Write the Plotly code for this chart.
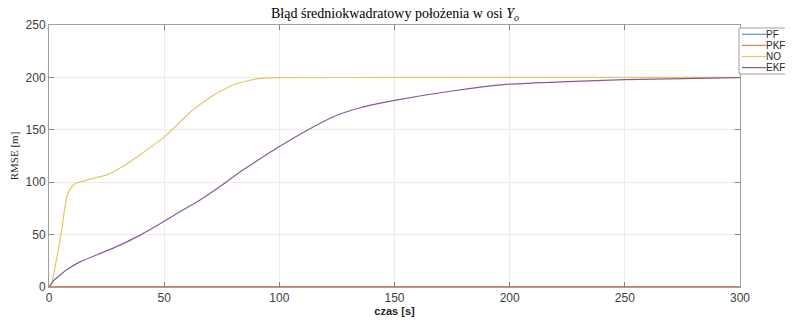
import plotly.graph_objects as go

# %% Data
t_flat = [0, 100, 200, 300]
pf_rmse = [0.3, 0.3, 0.3, 0.3]
pkf_rmse = [0.5, 0.5, 0.5, 0.5]

t_no = [0, 1, 2.6, 4, 5.2, 6.5, 8, 10, 12, 15, 18, 25, 32, 40, 50, 61, 70, 80, 85, 90, 95, 100, 150, 200, 250, 300]
no_rmse = [0, 2, 19, 35, 50, 70, 88, 96, 99.5, 101, 103, 107, 115, 127, 143, 166, 181, 193, 196, 198.6, 199.5, 199.7, 200, 200, 200, 200]

t_ekf = [0, 2, 4.8, 8, 13.5, 20, 30.8, 40, 49.5, 57, 65.6, 75, 83, 90, 100, 110, 123, 135, 150, 175, 200, 225, 250, 275, 300]
ekf_rmse = [0, 6, 11.5, 17, 24, 30, 40, 50, 62, 72, 83, 97, 110, 120, 134, 147, 162, 171, 178, 187, 193.5, 196, 197.8, 198.9, 199.7]

x_ticks = [0, 50, 100, 150, 200, 250, 300]
y_ticks = [0, 50, 100, 150, 200, 250]

# page body has an 8px margin, so figure is 8px smaller and margins shifted
W, H = 785, 313
ML, MR, MT, MB = 41, 53, 17, 34
PW = W - ML - MR
PH = H - MT - MB


def px_x(px):
    # window pixel -> paper x
    return (px - 8 - ML) / PW


def px_y(py):
    # window pixel -> paper y
    return (H - MB + 8 - py) / PH


# %% Figure
fig = go.Figure()
series = [
    ('PF', t_flat, pf_rmse, '#4a9fd0'),
    ('PKF', t_flat, pkf_rmse, '#d9824f'),
    ('NO', t_no, no_rmse, '#e8c468'),
    ('EKF', t_ekf, ekf_rmse, '#8a5a98'),
]
for name, t, y, color in series:
    fig.add_trace(go.Scatter(
        x=t, y=y, mode='lines', name=name, showlegend=False,
        line=dict(color=color, width=1.2, shape='spline', smoothing=0.6),
    ))

# MATLAB style legend box on the right edge
fig.add_shape(type='rect', xref='paper', yref='paper',
              x0=px_x(739), x1=px_x(800), y0=px_y(74), y1=px_y(28),
              line=dict(color='#a0a0a0', width=1), fillcolor='white', layer='above')
for i, (name, t, y, color) in enumerate(series):
    yy = px_y(34.3 + i * 11.1)
    fig.add_shape(type='line', xref='paper', yref='paper',
                  x0=px_x(742), x1=px_x(766), y0=yy, y1=yy,
                  line=dict(color=color, width=1.2), layer='above')
    fig.add_annotation(x=px_x(765), y=yy, xref='paper', yref='paper',
                       text=name, showarrow=False, xanchor='left', yanchor='middle',
                       borderpad=0,
                       font=dict(family='Liberation Sans', size=10, color='#262626'))

axis_style = dict(
    showline=True, linecolor='#a0a0a0', linewidth=1, mirror='allticks',
    ticks='inside', ticklen=5, tickcolor='#808080',
    showgrid=True, gridcolor='#ebebeb', gridwidth=1, zeroline=False,
    tickfont=dict(family='Liberation Sans', size=12, color='#404040'),
)
fig.update_xaxes(
    range=[0, 300], tickvals=x_ticks,
    title=dict(text='<b>czas [s]</b>', standoff=1,
               font=dict(family='Liberation Sans', size=11, color='#262626')),
    **axis_style
)
fig.update_yaxes(
    range=[0, 250], tickvals=y_ticks,
    title=dict(text='RMSE [m]', standoff=6,
               font=dict(family='Liberation Serif', size=11, color='#262626')),
    **axis_style
)

fig.update_layout(
    width=W, height=H,
    margin=dict(l=ML, r=MR, t=MT, b=MB, autoexpand=False),
    paper_bgcolor='white', plot_bgcolor='white',
    showlegend=False,
    title=dict(
        text='Błąd średniokwadratowy położenia w osi <i>Y</i><sub><i>o</i></sub>',
        x=px_x(395), xref='paper', xanchor='center',
        y=1, yanchor='top', pad=dict(t=0),
        font=dict(family='Liberation Serif', size=14, color='black'),
    ),
)

fig.write_html("out.html")
